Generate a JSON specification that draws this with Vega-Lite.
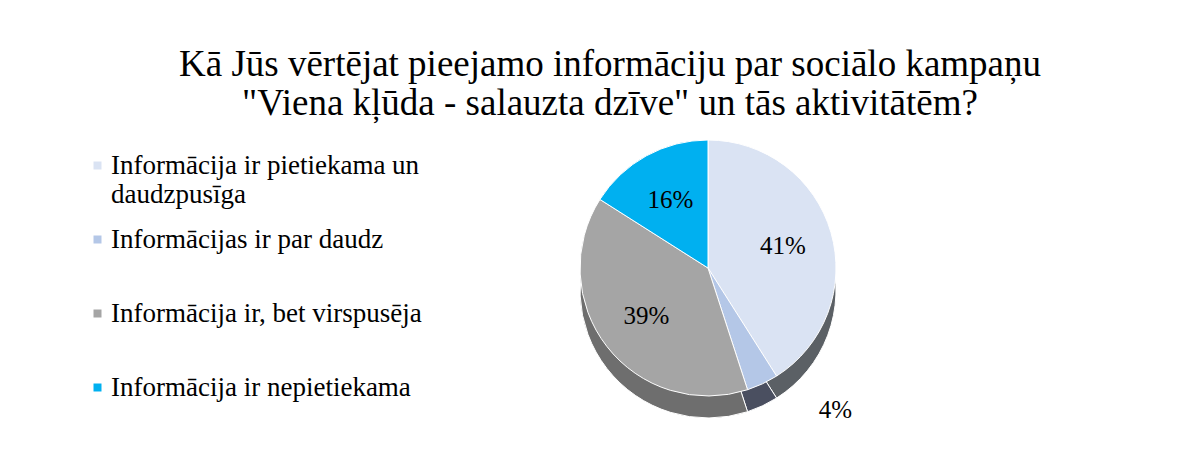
{
  "$schema": "https://vega.github.io/schema/vega-lite/v6.json",
  "width": 496,
  "height": 256,
  "padding": {"left": 84, "top": 46, "right": 10, "bottom": 10},
  "background": "white",
  "config": {
    "view": {"stroke": null},
    "font": "Liberation Serif",
    "title": {"font": "Liberation Serif"}
  },
  "title": {
    "text": ["Kā Jūs vērtējat pieejamo informāciju par sociālo kampaņu", "\"Viena kļūda - salauzta dzīve\" un  tās aktivitātēm?"],
    "fontSize": 37,
    "font": "Liberation Serif",
    "fontWeight": "normal",
    "color": "#000000",
    "lineHeight": 39,
    "anchor": "middle",
    "dx": -98,
    "offset": -28
  },
  "data": {
    "values": [
      {"category": "Informācija ir pietiekama un daudzpusīga", "value": 41, "order": 1, "label": "41%"},
      {"category": "Informācijas ir par daudz", "value": 4, "order": 2, "label": "4%"},
      {"category": "Informācija ir, bet virspusēja", "value": 39, "order": 3, "label": "39%"},
      {"category": "Informācija ir nepietiekama", "value": 16, "order": 4, "label": "16%"}
    ]
  },
  "encoding": {
    "theta": {"field": "value", "type": "quantitative", "stack": true},
    "order": {"field": "order", "type": "quantitative"}
  },
  "resolve": {"legend": {"color": "independent", "fill": "independent"}, "scale": {"color": "independent", "fill": "independent"}},
  "layer": [
    {
      "mark": {"type": "arc", "outerRadius": 128, "yOffset": 22, "stroke": "white", "strokeWidth": 1},
      "encoding": {
        "fill": {
          "field": "category",
          "type": "nominal",
          "scale": {
            "domain": ["Informācija ir pietiekama un daudzpusīga", "Informācijas ir par daudz", "Informācija ir, bet virspusēja", "Informācija ir nepietiekama"],
            "range": ["#5B6065", "#4A4F60", "#6E6E6E", "#0085B5"]
          },
          "legend": null
        }
      }
    },
    {
      "mark": {"type": "arc", "outerRadius": 128, "stroke": "white", "strokeWidth": 1},
      "encoding": {
        "color": {
          "field": "category",
          "type": "nominal",
          "scale": {
            "domain": ["Informācija ir pietiekama un daudzpusīga", "Informācijas ir par daudz", "Informācija ir, bet virspusēja", "Informācija ir nepietiekama"],
            "range": ["#DAE3F3", "#B4C7E7", "#A5A5A5", "#00B0F0"]
          },
          "legend": {
            "orient": "none",
            "legendX": -376,
            "legendY": 12,
            "title": null,
            "padding": 0,
            "labelFont": "Liberation Serif",
            "labelFontSize": 27,
            "labelColor": "#000000",
            "labelLimit": 600,
            "labelOffset": 0,
            "symbolType": "square",
            "symbolSize": 64,
            "symbolStrokeWidth": 0,
            "gridAlign": "all",
            "rowPadding": 17,
            "labelExpr": "datum.label == 'Informācija ir pietiekama un daudzpusīga' ? ['Informācija ir pietiekama un', 'daudzpusīga'] : datum.label"
          }
        }
      }
    },
    {
      "mark": {"type": "text", "radius": 78, "fontSize": 25, "font": "Liberation Serif", "color": "#000000"},
      "encoding": {
        "text": {"condition": {"test": "datum.value >= 10", "field": "label"}, "value": ""}
      }
    },
    {
      "mark": {"type": "text", "radius": 170, "dx": 55, "dy": -12, "fontSize": 25, "font": "Liberation Serif", "color": "#000000"},
      "encoding": {
        "text": {"condition": {"test": "datum.value < 10", "field": "label"}, "value": ""}
      }
    }
  ]
}
